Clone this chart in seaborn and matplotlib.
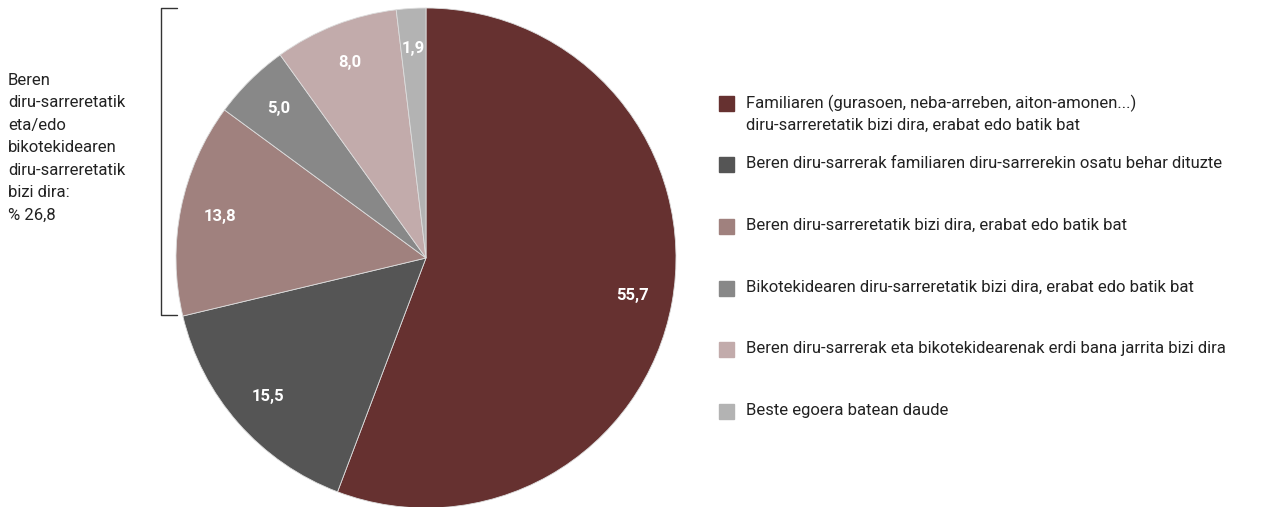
import matplotlib
matplotlib.use('Agg')
import matplotlib.pyplot as plt
import seaborn as sns

categories = [
    'Familiaren (gurasoen, neba-arreben, aiton-amonen...)\ndiru-sarreretatik bizi dira, erabat edo batik bat',
    'Beren diru-sarrerak familiaren diru-sarrerekin osatu behar dituzte',
    'Beren diru-sarreretatik bizi dira, erabat edo batik bat',
    'Bikotekidearen diru-sarreretatik bizi dira, erabat edo batik bat',
    'Beren diru-sarrerak eta bikotekidearenak erdi bana jarrita bizi dira',
    'Beste egoera batean daude',
]
values = [55.7, 15.5, 13.8, 5.0, 8.0, 1.9]
colors = ['#663130', '#555555', '#A0817E', '#888888', '#C2ABAB', '#B3B3B3']
bracket_text = 'Beren\ndiru-sarreretatik\neta/edo\nbikotekidearen\ndiru-sarreretatik\nbizi dira:\n% 26,8'

sns.set_theme(style='white')
plt.rcParams['font.family'] = ['Roboto', 'DejaVu Sans']

W, H = 1277, 507
fig = plt.figure(figsize=(W / 100, H / 100), dpi=100)
palette = sns.color_palette(colors)

# pie axes: centre (426, 258) px, radius 250 px
ax = fig.add_axes([176 / W, (H - 508) / H, 500 / W, 500 / H])
labels = [f'{v:.1f}'.replace('.', ',') for v in values]
wedges, texts = ax.pie(values, colors=palette, startangle=90, counterclock=False,
                       labels=labels, labeldistance=0.84,
                       wedgeprops=dict(linewidth=0.6, edgecolor='#dddddd'),
                       textprops=dict(color='white', fontweight='bold', fontsize=12))
for t in texts:
    t.set_horizontalalignment('center')
    t.set_verticalalignment('center')
ax.set_xlim(-1, 1)
ax.set_ylim(-1, 1)
ax.set_aspect('equal')
ax.axis('off')


def fx(px):
    return px / W


def fy(py):
    return 1 - py / H


# bracket on the left
fig.add_artist(plt.Line2D([fx(177), fx(161), fx(161), fx(177)],
                          [fy(8), fy(8), fy(315), fy(315)], color='#333333', lw=1))
fig.text(fx(8), fy(73), bracket_text, ha='left', va='top', fontsize=12,
         color='#222222', linespacing=1.62)

# legend
rows = [103, 164, 226, 288, 349, 411]
for label, col, y in zip(categories, palette, rows):
    fig.patches.append(plt.Rectangle((fx(719), fy(y + 8)), 15 / W, 15 / H,
                                     transform=fig.transFigure, color=col))
    fig.text(fx(746), fy(y - 8), label, ha='left', va='top', fontsize=12,
             color='#222222', linespacing=1.45)

fig.savefig('out.png', dpi=100)
